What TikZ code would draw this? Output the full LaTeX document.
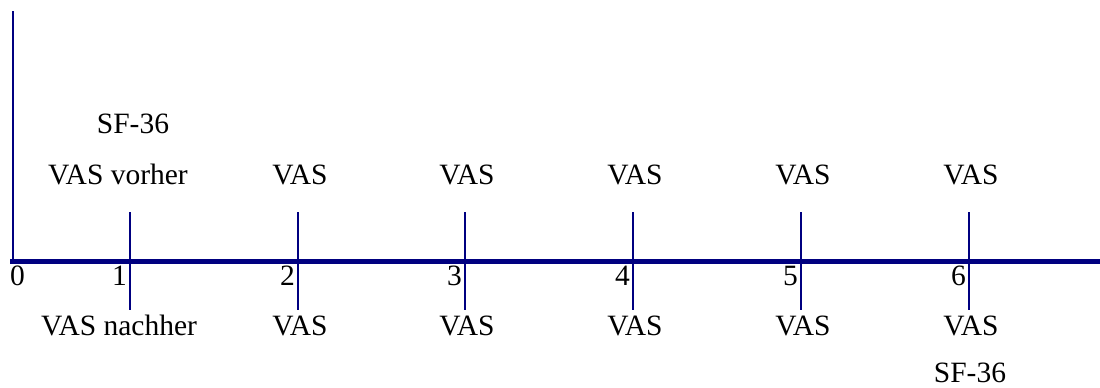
\documentclass[tikz,border=0pt]{standalone}
\usepackage{fontspec}
\setmainfont{Liberation Serif}
\usetikzlibrary{positioning}
\definecolor{axisblue}{RGB}{0,0,128}

\begin{document}
\begin{tikzpicture}[x=1pt, y=-1pt, every node/.style={font=\fontsize{29.5}{34}\selectfont, inner sep=0pt, anchor=base}, tick/.style={draw=axisblue, line width=1.8pt}]
\useasboundingbox (0,0) rectangle (1100,388);
  \coordinate (top) at (13,11);
  \coordinate (origin) at (13,261);
  \coordinate (start) at (10,261);
  \coordinate (end) at (1100,261);
  \draw[axisblue, line width=2pt] (origin) -- (top);
  \draw[axisblue, line width=5pt] (start) -- (end);
  \node (n0) [anchor=base west] at (10,285) {0};

  \foreach \i/\x in {1/130,2/298,3/465,4/633,5/801,6/969} {
    \coordinate (t\i a) at (\x,212);
    \coordinate (t\i b) at (\x,310);
    \draw[tick] (t\i a) -- (t\i b);
    \node (n\i) [anchor=base east] at (\x-3,285) {\i};
  }

  \node (sfa) at (133,133) {SF-36};
  \node (pre) at (118,184) {VAS vorher};
  \node (post) at (119,335) {VAS nachher};
  \foreach \i/\x in {2/300,3/467,4/635,5/803,6/971} {
    \node (up\i) at (\x,184) {VAS};
    \node (lo\i) at (\x,335) {VAS};
  }
  \node (sfb) at (970,382) {SF-36};
\end{tikzpicture}
\end{document}
